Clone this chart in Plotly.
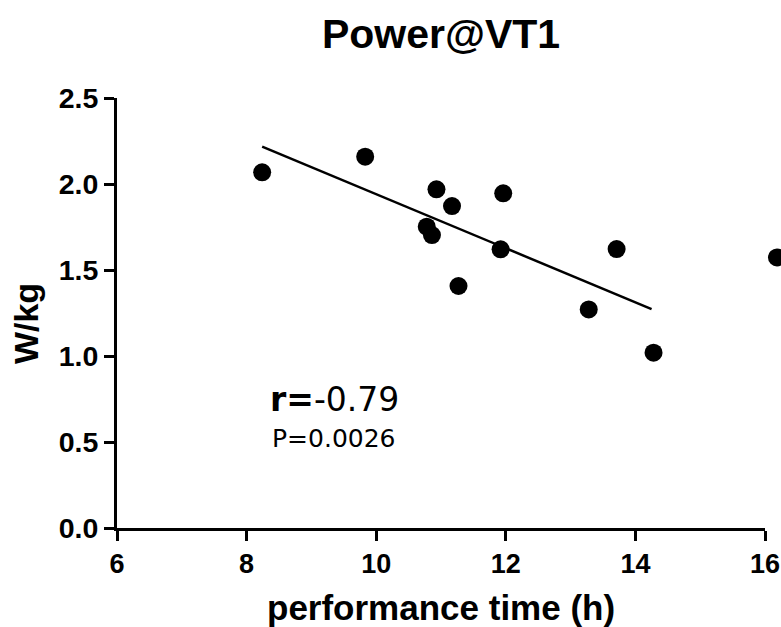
import plotly.graph_objects as go

# ---- data ----
perf_time = [8.24, 9.83, 10.93, 11.17, 10.78, 10.86, 11.96, 11.92, 11.27, 13.71, 13.28, 14.28]
power_vt1 = [2.068, 2.159, 1.969, 1.872, 1.752, 1.703, 1.946, 1.620, 1.407, 1.622, 1.271, 1.019]
fit_x = [8.24, 14.25]
fit_y = [2.217, 1.273]
edge_x = [16.185]         # partially visible point of neighbouring panel
edge_y = [1.573]
x_ticks = [6, 8, 10, 12, 14, 16]
y_ticks = [0.0, 0.5, 1.0, 1.5, 2.0, 2.5]
x_range = [6, 16]
y_range = [0, 2.5]

W, H = 781, 627
L, T, B = 117, 98, 99
PLOT_W = 648                      # pixel width of the main x axis
px_per_unit = PLOT_W / (x_range[1] - x_range[0])
x2_range = [x_range[0], x_range[0] + (W - L) / px_per_unit]

BOLD = dict(family="Liberation Sans, Arial, sans-serif", color="black", weight="bold")

fig = go.Figure()
fig.add_trace(go.Scatter(x=fit_x, y=fit_y, mode="lines",
                         line=dict(color="black", width=2.5), showlegend=False))
fig.add_trace(go.Scatter(x=perf_time, y=power_vt1, mode="markers",
                         marker=dict(color="black", size=18), showlegend=False))
fig.add_trace(go.Scatter(x=edge_x, y=edge_y, mode="markers", xaxis="x2", yaxis="y",
                         cliponaxis=False,
                         marker=dict(color="black", size=18), showlegend=False))

axis_common = dict(showgrid=False, zeroline=False, showline=True, linecolor="black",
                   linewidth=3, ticks="outside", ticklen=10, tickwidth=3, tickcolor="black",
                   automargin=False, ticklabeloverflow="allow")

fig.update_layout(
    template="none",
    width=W, height=H,
    margin=dict(l=L, r=0, t=T, b=B, autoexpand=False),
    paper_bgcolor="white", plot_bgcolor="rgba(0,0,0,0)",
    xaxis=dict(range=x_range, tickvals=x_ticks, domain=[0, PLOT_W / (W - L)],
               tickfont=dict(size=27, **BOLD), **axis_common),
    yaxis=dict(range=y_range, tickvals=y_ticks, tickformat=".1f",
               tickfont=dict(size=28.5, **BOLD), **axis_common),
    xaxis2=dict(range=x2_range, domain=[0, 1], anchor="y", visible=False),
    showlegend=False,
    title=dict(text="Power@VT1", x=441 / W, xanchor="center", xref="container",
               y=1 - 34 / H, yanchor="middle", yref="container",
               font=dict(size=41, **BOLD)),
    annotations=[
        dict(text="performance time (h)", xref="x", yref="paper", x=11, y=-0.184,
             xanchor="center", yanchor="middle", showarrow=False, font=dict(size=35, **BOLD)),
        dict(text="W/kg", xref="paper", yref="paper", x=-0.138, y=0.475, textangle=-90,
             xanchor="center", yanchor="middle", showarrow=False, font=dict(size=34, **BOLD)),
        dict(text="<b>r=</b>-0.79", xref="x", yref="y", x=8.33, y=0.75,
             xanchor="left", yanchor="middle", showarrow=False,
             font=dict(family="DejaVu Sans", size=33, color="black")),
        dict(text="P=0.0026", xref="x", yref="y", x=8.36, y=0.52,
             xanchor="left", yanchor="middle", showarrow=False,
             font=dict(family="DejaVu Sans", size=25, color="black")),
    ],
)

fig.write_html("out.html")
